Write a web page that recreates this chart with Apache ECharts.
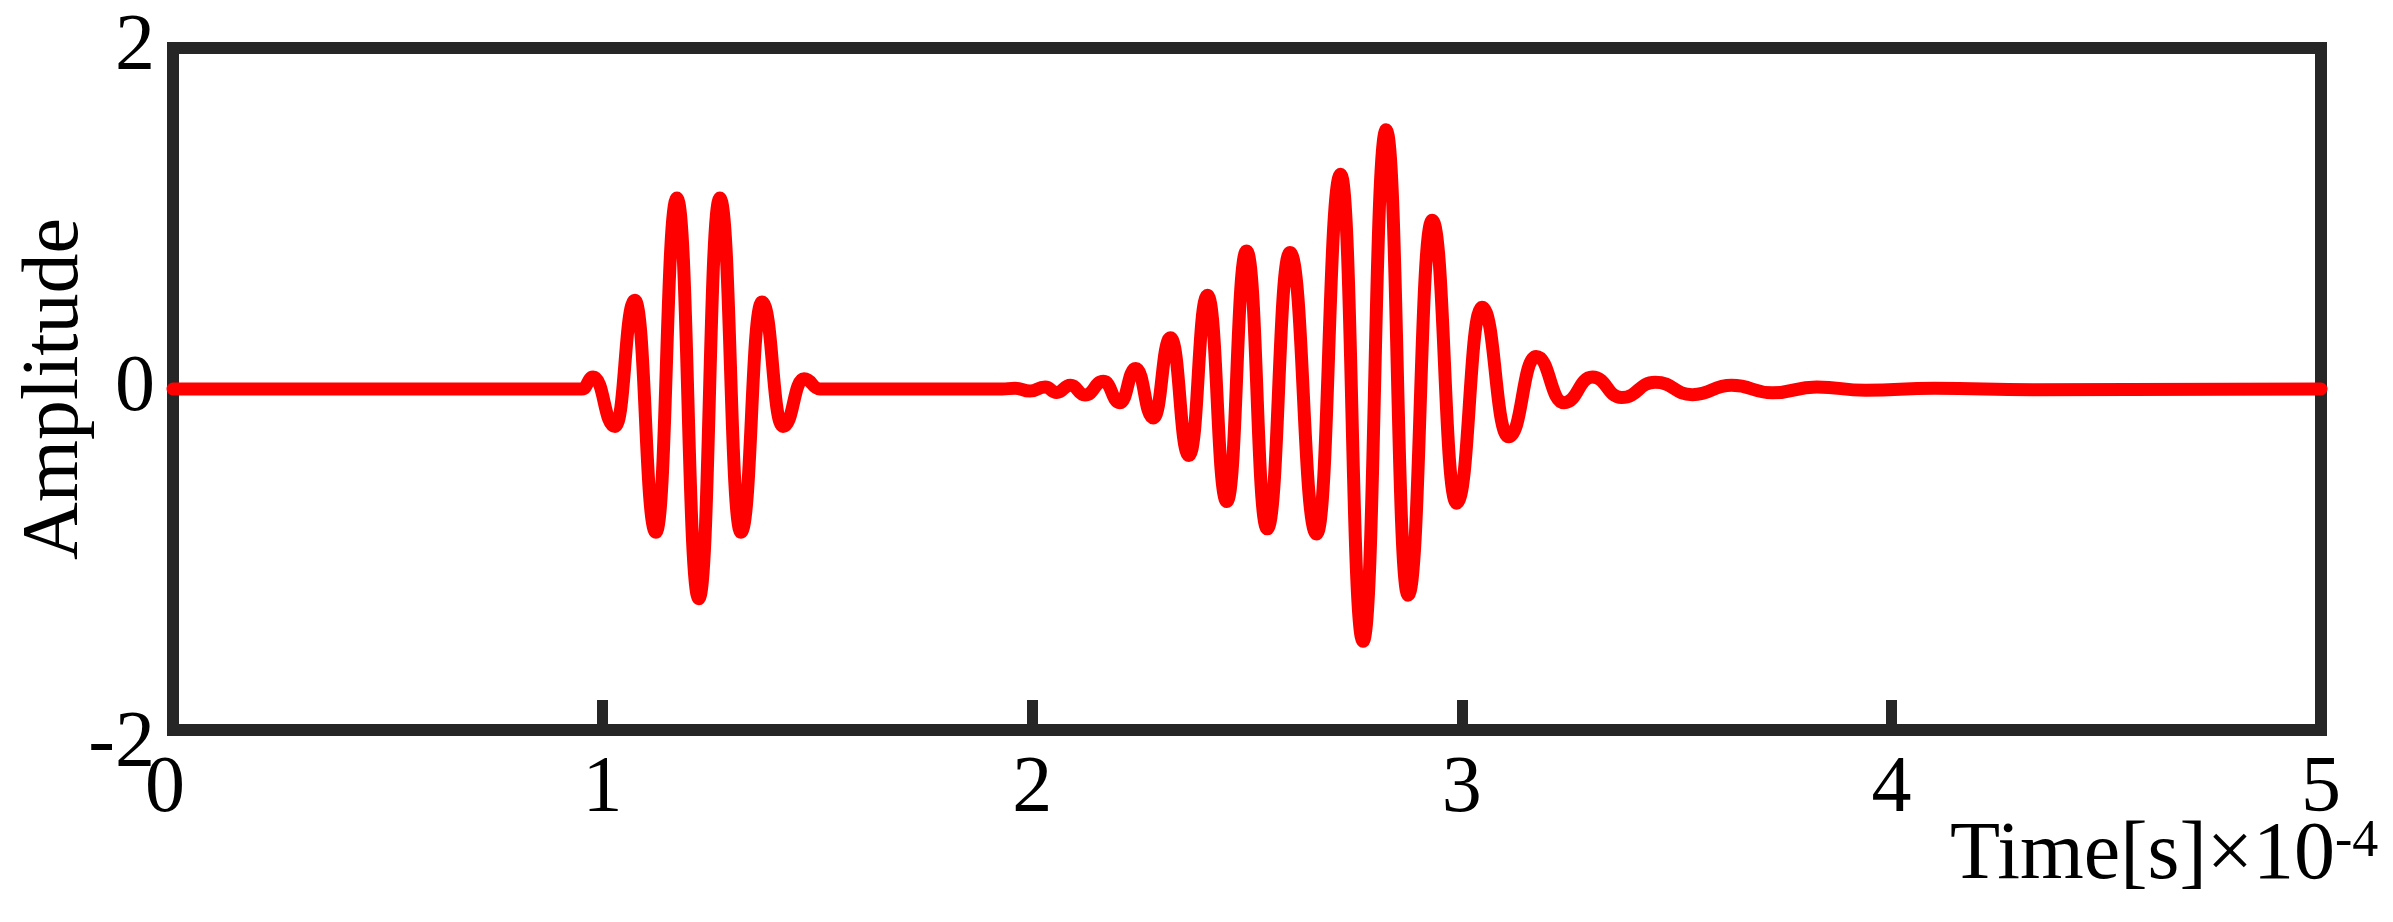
<!DOCTYPE html>
<html>
<head>
<meta charset="utf-8">
<script src="https://cdn.jsdelivr.net/npm/echarts@6/dist/echarts.min.js"></script>
<style>
html,body{margin:0;padding:0;background:#fff;}
#chart{width:2393px;height:922px;}
</style>
</head>
<body>
<div id="chart"></div>
<script>
// Time axis values are in units of 1e-4 s (as labelled on the axis)
const packet1Time = [0, 0.952, 0.978, 1.029, 1.075, 1.124, 1.173, 1.224, 1.273, 1.322, 1.371, 1.420, 1.469, 1.506];
const packet1Amp  = [0, 0,     0.07,  -0.22, 0.52,  -0.84, 1.12,  -1.23, 1.12,  -0.84, 0.51,  -0.22, 0.06,  0];

const packet2Time = [1.930, 1.960, 1.995, 2.030, 2.057, 2.089, 2.123, 2.166, 2.204, 2.241, 2.282, 2.322, 2.365, 2.408, 2.453, 2.499, 2.547, 2.600, 2.662, 2.718, 2.770, 2.824, 2.875, 2.931, 2.988, 3.047, 3.109, 3.173, 3.238, 3.304, 3.372, 3.450, 3.537, 3.628, 3.723, 3.826, 3.940, 4.100, 4.330, 5.000];
const packet2Amp  = [0,     0.005, -0.012, 0.012, -0.02, 0.022, -0.035, 0.045, -0.08, 0.12,  -0.17, 0.30,  -0.39, 0.55,  -0.66, 0.81,  -0.82, 0.80,  -0.85, 1.26,  -1.48, 1.52,  -1.21, 0.99,  -0.67, 0.48,  -0.28, 0.19,  -0.08, 0.07,  -0.05, 0.04,  -0.033, 0.022, -0.022, 0.012, -0.008, 0.004, -0.004, 0];

const xTickValues = [0, 1, 2, 3, 4, 5];
const yTickValues = [-2, 0, 2];
const xAxisTitle = 'Time[s]×10';
const xAxisExponent = '-4';
const yAxisTitle = 'Amplitude';

const timeAll = packet1Time.concat(packet2Time);
const ampAll = packet1Amp.concat(packet2Amp);
const seriesData = timeAll.map((t, i) => [t, ampAll[i]]);

const FONT = "'Liberation Serif', 'Times New Roman', serif";
const FRAME = '#262626';
const labelText = {fontFamily: FONT, fontSize: 80, color: '#000'};

const chart = echarts.init(document.getElementById('chart'), null, {renderer: 'canvas'});
chart.setOption({
  animation: false,
  backgroundColor: '#ffffff',
  grid: {
    left: 173, right: 72, top: 48, bottom: 192,
    containLabel: false,
    outerBoundsMode: 'none',
    show: true, borderColor: FRAME, borderWidth: 12, backgroundColor: 'transparent'
  },
  xAxis: {
    type: 'value',
    min: xTickValues[0], max: xTickValues[xTickValues.length - 1], interval: 1,
    axisLine: {show: true, onZero: false, lineStyle: {color: FRAME, width: 12}},
    axisTick: {show: true, inside: true, length: 30, lineStyle: {color: FRAME, width: 11}},
    axisLabel: {
      color: '#000', fontFamily: FONT, fontSize: 80, margin: 20,
      formatter: v => v === xTickValues[0] ? '{first|' + v + '}' : '{n|' + v + '}',
      rich: {
        first: Object.assign({padding: [0, 16, 0, 0]}, labelText),
        n: labelText
      }
    },
    splitLine: {show: false},
    name: '{a|' + xAxisTitle + '}{b|' + xAxisExponent + '}',
    nameLocation: 'end',
    nameGap: -371,
    nameMoveOverlap: false,
    nameTextStyle: {
      verticalAlign: 'top', padding: [86, 0, 0, 0],
      rich: {
        a: {fontFamily: FONT, fontSize: 82, lineHeight: 80, color: '#000'},
        b: {fontFamily: FONT, fontSize: 52, lineHeight: 22, verticalAlign: 'top', color: '#000'}
      }
    }
  },
  yAxis: {
    type: 'value',
    min: yTickValues[0], max: yTickValues[yTickValues.length - 1], interval: 2,
    axisLine: {show: true, onZero: false, lineStyle: {color: FRAME, width: 12}},
    axisTick: {show: false},
    axisLabel: {
      color: '#000', fontFamily: FONT, fontSize: 80, margin: 18,
      formatter: v => v === yTickValues[0] ? '{low|' + v + '}' : '{n|' + v + '}',
      rich: {
        low: Object.assign({padding: [30, 0, 0, 0]}, labelText),
        n: labelText
      }
    },
    splitLine: {show: false},
    name: yAxisTitle,
    nameLocation: 'middle',
    nameGap: 77,
    nameMoveOverlap: false,
    nameTextStyle: {color: '#000', fontFamily: FONT, fontSize: 80}
  },
  series: [{
    type: 'line',
    data: seriesData,
    showSymbol: false,
    smooth: 0.5,
    smoothMonotone: 'x',
    lineStyle: {color: '#ff0000', width: 13, cap: 'round', join: 'round'},
    itemStyle: {color: '#ff0000'},
    z: 3
  }]
});
</script>
</body>
</html>
